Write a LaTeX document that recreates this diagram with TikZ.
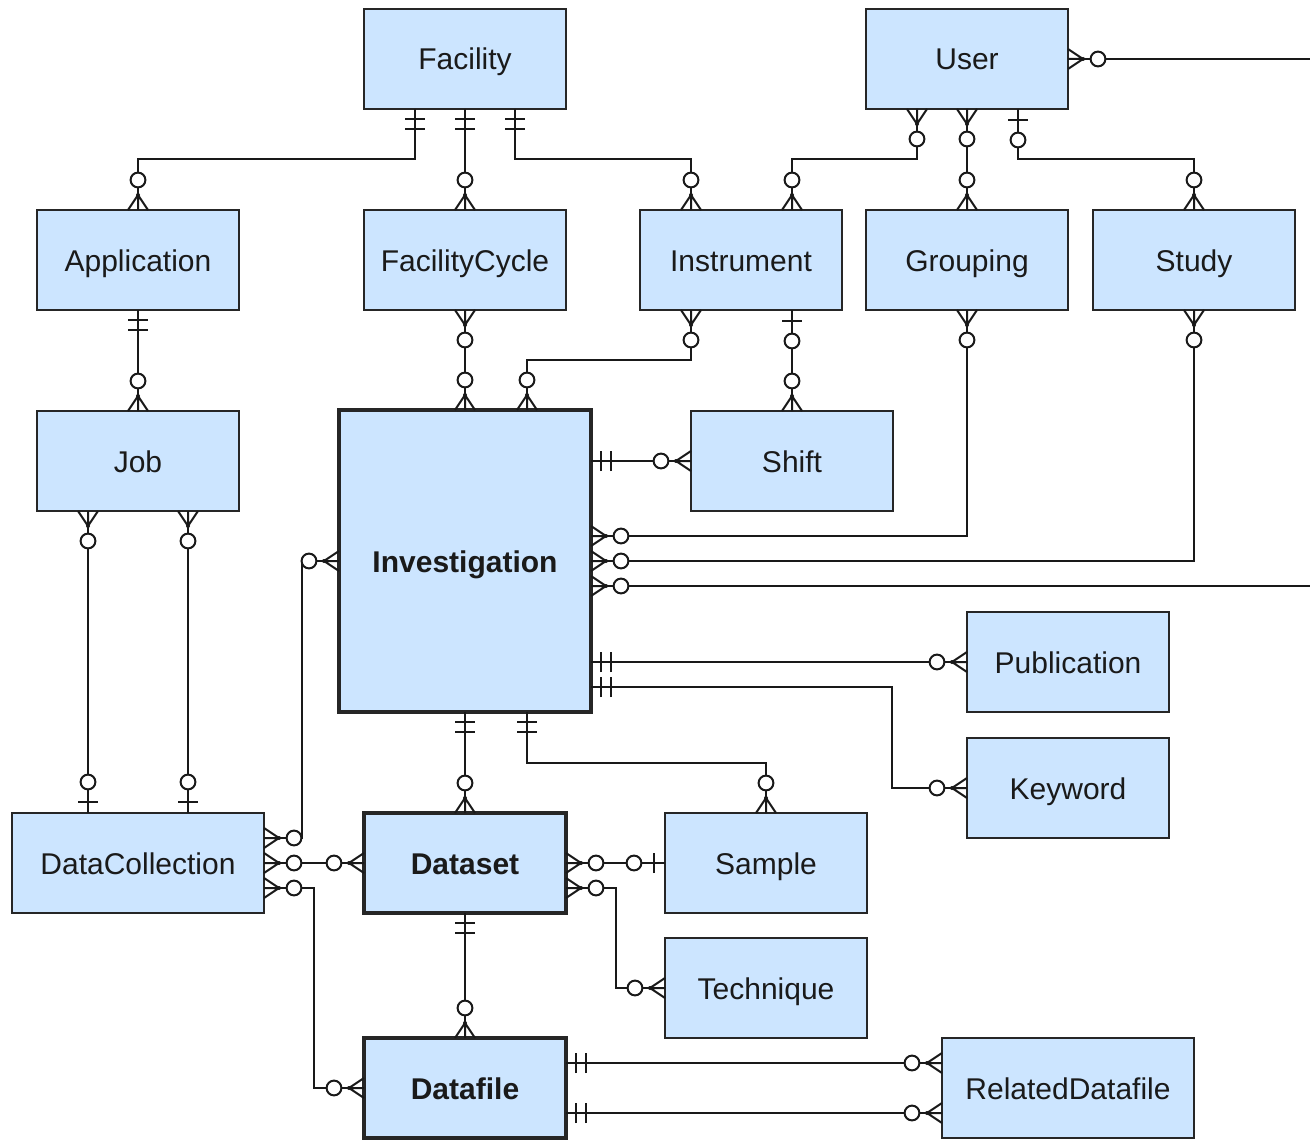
\documentclass[tikz,border=0pt]{standalone}
\usepackage{fontspec}
\setmainfont{Liberation Sans}
\usetikzlibrary{calc,decorations.markings}
\definecolor{entfill}{HTML}{CCE5FF}
\definecolor{txt}{HTML}{1A1A1A}
\newcommand{\crowZM}[1]{%
  \draw[line width=1pt] (#1*7.5pt,0pt) -- (0pt,5pt) (#1*7.5pt,0pt) -- (0pt,0pt) (#1*7.5pt,0pt) -- (0pt,-5pt);
  \fill (#1*7.5pt,0pt) circle (1pt);
  \draw[line width=1pt,fill=white] (#1*15pt,0pt) circle (3.7pt);}
\newcommand{\barONE}[1]{%
  \draw[line width=1pt] (#1*5pt,-5pt) -- (#1*5pt,5pt) (#1*10pt,-5pt) -- (#1*10pt,5pt);}
\newcommand{\barZO}[1]{%
  \draw[line width=1pt] (#1*5.5pt,-5pt) -- (#1*5.5pt,5pt);
  \draw[line width=1pt,fill=white] (#1*15.5pt,0pt) circle (3.7pt);}
\tikzset{
  ent/.style={draw=black!85,line width=1pt,fill=entfill,minimum width=101pt,minimum height=50pt,
    inner sep=0pt,outer sep=0pt,text=txt,font=\fontsize{15}{18}\selectfont,
    text height=11pt,text depth=0pt},
  strong/.style={line width=2pt},
  wide/.style={minimum width=126pt},
  conn/.style={line width=1pt,black!90},
  mkS/.style={postaction={decorate,decoration={markings,mark=at position 0 with {#1{1}}}}},
  mkE/.style={postaction={decorate,decoration={markings,mark=at position 1 with {#1{-1}}}}},
  zmS/.style={mkS=\crowZM}, zmE/.style={mkE=\crowZM},
  oneS/.style={mkS=\barONE}, oneE/.style={mkE=\barONE},
  zoS/.style={mkS=\barZO}, zoE/.style={mkE=\barZO},
}
\begin{document}
\begin{tikzpicture}[x=0.5pt,y=-0.5pt]
\useasboundingbox (0,0) rectangle (1310,1139);
% entities
\node[ent] (facility) at (465,59) {Facility};
\node[ent] (user) at (967,59) {User};
\node[ent] (application) at (138,260) {Application};
\node[ent] (facilitycycle) at (465,260) {FacilityCycle};
\node[ent] (instrument) at (741,260) {Instrument};
\node[ent] (grouping) at (967,260) {Grouping};
\node[ent] (study) at (1194,260) {Study};
\node[ent] (job) at (138,461) {Job};
\node[ent,strong,minimum width=126pt,minimum height=151pt,font=\fontsize{15}{18}\selectfont\bfseries] (investigation) at (465,561) {Investigation};
\node[ent] (shift) at (792,461) {Shift};
\node[ent] (publication) at (1068,662) {Publication};
\node[ent] (keyword) at (1068,788) {Keyword};
\node[ent,wide] (datacollection) at (138,863) {DataCollection};
\node[ent,strong,font=\fontsize{15}{18}\selectfont\bfseries] (dataset) at (465,863) {Dataset};
\node[ent] (sample) at (766,863) {Sample};
\node[ent] (technique) at (766,988) {Technique};
\node[ent,strong,font=\fontsize{15}{18}\selectfont\bfseries] (datafile) at (465,1088) {Datafile};
\node[ent,wide] (relateddatafile) at (1068,1088) {RelatedDatafile};
\coordinate (uout) at (1310,59);
\coordinate (iout) at (1310,586);
% connectors
\draw[conn,oneS,zmE] ($(facility.south)+(-50,0)$) -- ++(0,50) -| (application.north);
\draw[conn,oneS,zmE] (facility.south) -- (facilitycycle.north);
\draw[conn,oneS,zmE] ($(facility.south)+(50,0)$) -- ++(0,50) -| ($(instrument.north)+(-50,0)$);
\draw[conn,zmS,zmE] ($(user.south)+(-50,0)$) -- ++(0,50) -| ($(instrument.north)+(51,0)$);
\draw[conn,zmS,zmE] (user.south) -- (grouping.north);
\draw[conn,zoS,zmE] ($(user.south)+(51,0)$) -- ++(0,50) -| (study.north);
\draw[conn,zmS] (user.east) -- (uout);
\draw[conn,oneS,zmE] (application.south) -- (job.north);
\draw[conn,zmS,zmE] (facilitycycle.south) -- (investigation.north);
\draw[conn,zmS,zmE] ($(instrument.south)+(-50,0)$) -- ++(0,50) -| ($(investigation.north)+(62,0)$);
\draw[conn,zoS,zmE] ($(instrument.south)+(51,0)$) -- (shift.north);
\draw[conn,oneS,zmE] (investigation.east |- shift.west) -- (shift.west);
\draw[conn,zmS,zmE] (grouping.south) |- ($(investigation.east)+(0,-25)$);
\draw[conn,zmS,zmE] (study.south) |- (investigation.east);
\draw[conn,zmS] ($(investigation.east)+(0,25)$) -- (iout);
\draw[conn,oneS,zmE] (investigation.east |- publication.west) -- (publication.west);
\draw[conn,oneS,zmE] ($(investigation.east)+(0,126)$) -| ($(keyword.west)+(-75,0)$) -- (keyword.west);
\draw[conn,oneS,zmE] (investigation.south) -- (dataset.north);
\draw[conn,oneS,zmE] ($(investigation.south)+(62,0)$) -- ++(0,51) -| (sample.north);
\draw[conn,zmS,zoE] ($(job.south)+(-50,0)$) -- ($(datacollection.north)+(-50,0)$);
\draw[conn,zmS,zoE] ($(job.south)+(50,0)$) -- ($(datacollection.north)+(50,0)$);
\draw[conn,zmS,zmE] ($(datacollection.east)+(0,-25)$) -- ++(38,0) |- (investigation.west);
\draw[conn,zmS,zmE] (datacollection.east) -- (dataset.west);
\draw[conn,zmS,zmE] ($(datacollection.east)+(0,25)$) -- ++(50,0) |- (datafile.west);
\draw[conn,zmS,zoE] (dataset.east) -- (sample.west);
\draw[conn,zmS,zmE] ($(dataset.east)+(0,25)$) -- ++(50,0) |- (technique.west);
\draw[conn,oneS,zmE] (dataset.south) -- (datafile.north);
\draw[conn,oneS,zmE] ($(datafile.east)+(0,-25)$) -- ($(relateddatafile.west)+(0,-25)$);
\draw[conn,oneS,zmE] ($(datafile.east)+(0,25)$) -- ($(relateddatafile.west)+(0,25)$);
\end{tikzpicture}
\end{document}
